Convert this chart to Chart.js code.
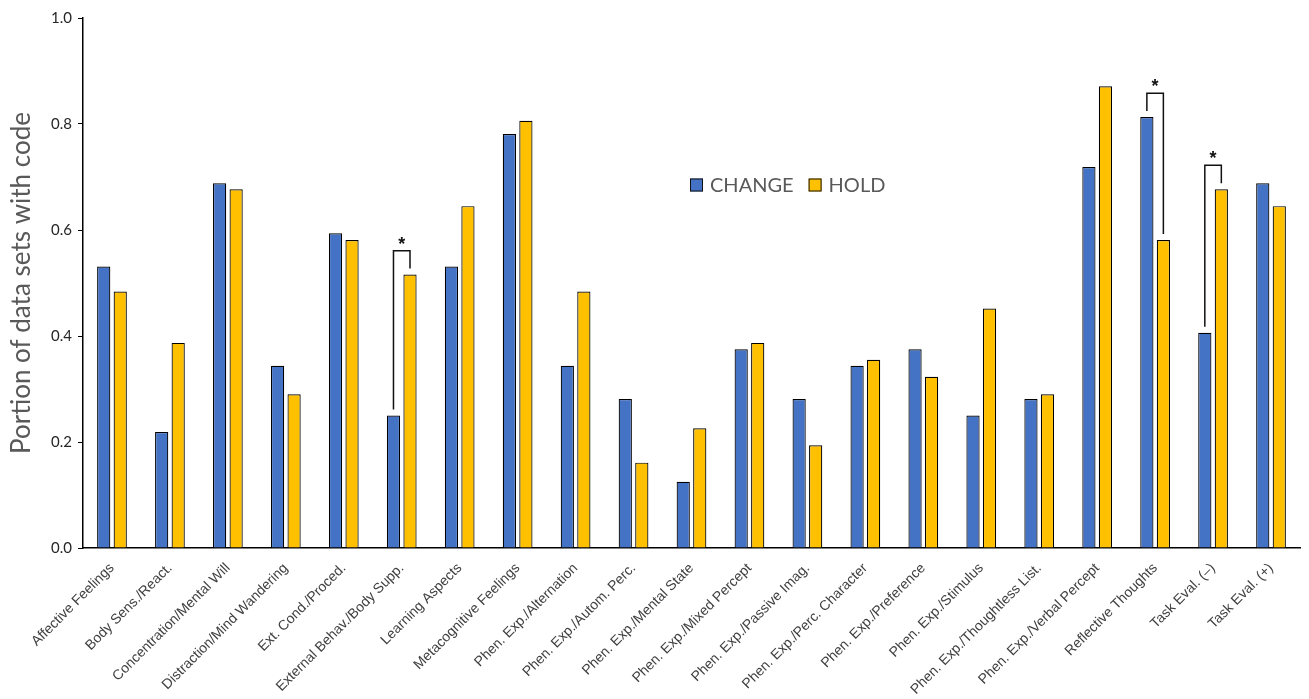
<!DOCTYPE html>
<html>
<head>
<meta charset="utf-8">
<script src="https://cdn.jsdelivr.net/npm/chart.js@4"></script>
<style>
  html, body { margin: 0; padding: 0; background: #fff; }
  #wrap { width: 1309px; height: 699px; position: relative; }
</style>
</head>
<body>
<div id="wrap"><canvas id="codeChart" width="1309" height="699"></canvas></div>
<script>
// Categories (codes)
const codes = [
    'Affective Feelings', 'Body Sens./React.', 'Concentration/Mental Will',
    'Distraction/Mind Wandering', 'Ext. Cond./Proced.', 'External Behav./Body Supp.',
    'Learning Aspects', 'Metacognitive Feelings', 'Phen. Exp./Alternation',
    'Phen. Exp./Autom. Perc.', 'Phen. Exp./Mental State', 'Phen. Exp./Mixed Percept',
    'Phen. Exp./Passive Imag.', 'Phen. Exp./Perc. Character', 'Phen. Exp./Preference',
    'Phen. Exp./Stimulus', 'Phen. Exp./Thoughtless List.', 'Phen. Exp./Verbal Percept',
    'Reflective Thoughts', 'Task Eval. (\u2013)', 'Task Eval. (+)'
];

// Portion of data sets containing each code
const changeValues = [0.531, 0.219, 0.688, 0.344, 0.594, 0.250, 0.531, 0.781, 0.344, 0.281, 0.125,
                      0.375, 0.281, 0.344, 0.375, 0.250, 0.281, 0.719, 0.813, 0.406, 0.688];
const holdValues   = [0.484, 0.387, 0.677, 0.290, 0.581, 0.516, 0.645, 0.806, 0.484, 0.161, 0.226,
                      0.387, 0.194, 0.355, 0.323, 0.452, 0.290, 0.871, 0.581, 0.677, 0.645];

// Codes with a significant CHANGE vs HOLD difference
const significantIdx = [5, 18, 19];

const yTicks = [0, 0.2, 0.4, 0.6, 0.8, 1.0];

const BLUE = '#4472C4';
const GOLD = '#FFC000';
const SANS = '"Liberation Sans", Arial, sans-serif';
const HUMANIST = 'Lato, "Open Sans", sans-serif';

// Brackets with a star above significant pairs
const sigBrackets = {
    id: 'sigBrackets',
    afterDatasetsDraw(chart) {
        const { ctx, scales: { y } } = chart;
        const m0 = chart.getDatasetMeta(0), m1 = chart.getDatasetMeta(1);
        ctx.save();
        ctx.strokeStyle = '#111';
        ctx.lineWidth = 1.5;
        significantIdx.forEach(i => {
            const a = changeValues[i], b = holdValues[i];
            const top = y.getPixelForValue(Math.max(a, b) + 0.045);
            const xa = m0.data[i].x, xb = m1.data[i].x;
            ctx.beginPath();
            ctx.moveTo(xa, y.getPixelForValue(a) - 6);
            ctx.lineTo(xa, top);
            ctx.lineTo(xb, top);
            ctx.lineTo(xb, y.getPixelForValue(b) - 6);
            ctx.stroke();
            ctx.fillStyle = '#111';
            ctx.font = 'bold 18px ' + SANS;
            ctx.textAlign = 'center';
            ctx.textBaseline = 'alphabetic';
            ctx.fillText('*', (xa + xb) / 2, top - 1);
        });
        ctx.restore();
    }
};

// Legend drawn inside the plot area
const innerLegend = {
    id: 'innerLegend',
    afterDraw(chart) {
        const { ctx } = chart;
        let x = 690;
        const yMid = 185;
        ctx.save();
        ctx.font = '20px ' + HUMANIST;
        ctx.textBaseline = 'middle';
        ctx.textAlign = 'left';
        chart.data.datasets.forEach(ds => {
            ctx.fillStyle = ds.backgroundColor;
            ctx.fillRect(x, yMid - 6.5, 13, 13);
            ctx.strokeStyle = '#111';
            ctx.lineWidth = 1;
            ctx.strokeRect(x + 0.5, yMid - 6, 12, 12);
            ctx.fillStyle = '#595959';
            ctx.fillText(ds.label, x + 20, yMid + 1);
            x += 20 + ctx.measureText(ds.label).width + 15;
        });
        ctx.restore();
    }
};

new Chart(document.getElementById('codeChart'), {
    type: 'bar',
    data: {
        labels: codes,
        datasets: [
            { label: 'CHANGE', data: changeValues, backgroundColor: BLUE, borderColor: '#000', borderWidth: 1.2 },
            { label: 'HOLD', data: holdValues, backgroundColor: GOLD, borderColor: '#000', borderWidth: 1.2 }
        ]
    },
    options: {
        responsive: false,
        animation: false,
        layout: { padding: { top: 18, right: 9, left: 0, bottom: 0 } },
        datasets: { bar: { categoryPercentage: 0.57, barPercentage: 0.8 } },
        scales: {
            x: {
                grid: { display: false },
                border: { display: true, color: '#000', width: 1.5 },
                ticks: {
                    autoSkip: false,
                    minRotation: 45,
                    maxRotation: 45,
                    color: '#404040',
                    padding: 4,
                    font: { family: SANS, size: 14 }
                },
                afterFit(scale) { scale.height = 151; }
            },
            y: {
                min: 0,
                max: 1,
                afterBuildTicks(scale) { scale.ticks = yTicks.map(v => ({ value: v })); },
                grid: { drawOnChartArea: false, drawTicks: true, tickLength: 5, color: '#000' },
                border: { display: true, color: '#000', width: 1.5 },
                ticks: {
                    color: '#262626',
                    padding: 6,
                    font: { family: HUMANIST, size: 15 },
                    callback: v => v.toFixed(1)
                },
                title: {
                    display: true,
                    text: 'Portion of data sets with code',
                    color: '#595959',
                    padding: { top: 6, bottom: 0 },
                    font: { family: HUMANIST, size: 26 }
                },
                afterFit(scale) { scale.width = 83; }
            }
        },
        plugins: {
            legend: { display: false },
            tooltip: { enabled: false }
        }
    },
    plugins: [sigBrackets, innerLegend]
});
</script>
</body>
</html>
